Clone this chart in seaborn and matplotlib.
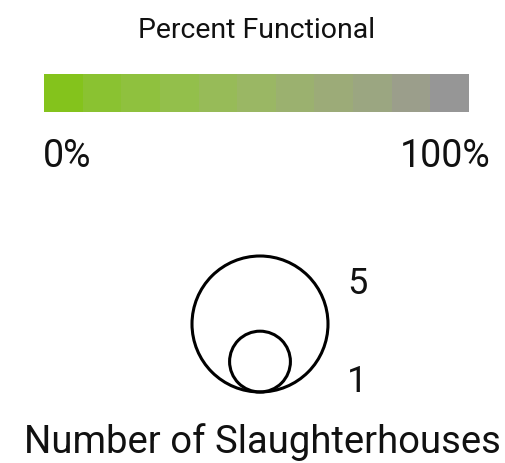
import numpy as np
import seaborn as sns
import matplotlib.pyplot as plt
from matplotlib.colors import ListedColormap
from matplotlib.patches import Circle

# legend data
pct_steps = list(range(11))
step_colors = ['#84c31c', '#8ac231', '#8fc13e', '#93bf4b', '#97bb58',
               '#9ab764', '#9bb16f', '#9cab78', '#9ba681', '#9b9e8b', '#969696']
pct_labels = ['0%', '100%']
size_values = [5, 1]
size_labels = ['5', '1']

sns.set_style('white')
plt.rcParams['font.family'] = ['Roboto', 'DejaVu Sans']

fig = plt.figure(figsize=(5.05, 4.64), dpi=100)
ax = fig.add_axes([0, 0, 1, 1])
ax.set_xlim(0, 505)
ax.set_ylim(464, 0)
ax.axis('off')

ax.text(257, 30, 'Percent Functional', ha='center', va='center', fontsize=20.5, color='#111111')

# colour ramp
cax = fig.add_axes([44 / 505, 1 - 113 / 464, 425 / 505, 38 / 464])
sns.heatmap(np.array([pct_steps]), cmap=ListedColormap(step_colors), cbar=False,
            xticklabels=False, yticklabels=False, ax=cax)

ax.text(43, 157, pct_labels[0], ha='left', va='center', fontsize=27, color='#111111')
ax.text(491, 157, pct_labels[1], ha='right', va='center', fontsize=27, color='#111111')

# nested circles, area proportional to count
max_r = 68
cx, bottom = 260, 393
for v in size_values:
    r = max_r * np.sqrt(v / max(size_values))
    ax.add_patch(Circle((cx, bottom - r), r, fill=False, lw=2.2, ec='black'))

ax.text(347, 284, size_labels[0], ha='left', va='center', fontsize=26, color='#111111')
ax.text(347, 382, size_labels[1], ha='left', va='center', fontsize=26, color='#111111')

ax.text(262, 442, 'Number of Slaughterhouses', ha='center', va='center', fontsize=27.5, color='#111111')

fig.savefig('out.png', dpi=100)
